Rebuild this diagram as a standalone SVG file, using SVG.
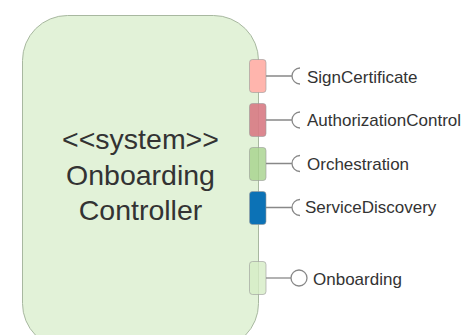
<svg xmlns="http://www.w3.org/2000/svg" width="466" height="335" viewBox="0 0 466 335">
<style>
.t{font-family:"Liberation Sans",Arial,sans-serif;fill:#333333}
.big{font-size:28.5px;text-anchor:middle}
.lbl{font-size:17px}
.ln{stroke:#888888;stroke-width:1.3;fill:none}
.port{stroke:#999999;stroke-width:1;stroke-opacity:0.6}
</style>
<rect width="466" height="335" fill="#ffffff"/>
<g id="system">
<rect x="22.5" y="15.5" width="236" height="333" rx="45" ry="45" fill="#e2f2d8" stroke="#a8b8a0" stroke-width="1"/>
<text class="t big" x="140.5" y="149">&lt;&lt;system&gt;&gt;</text>
<text class="t big" x="140.5" y="185">Onboarding</text>
<text class="t big" x="140.5" y="220">Controller</text>
</g>
<g id="port-sign"><rect class="port" x="249.5" y="59.5" width="16.5" height="33" rx="3" fill="#ffb5ad"/></g>
<g id="port-auth"><rect class="port" x="249.5" y="103.5" width="16.5" height="33" rx="3" fill="#d87a84" fill-opacity="0.9"/></g>
<g id="port-orch"><rect class="port" x="249.5" y="147.5" width="16.5" height="33" rx="3" fill="#a6d28c" fill-opacity="0.8"/></g>
<g id="port-sd"><rect class="port" x="249.5" y="191.5" width="16.5" height="33" rx="3" fill="#0c72b6"/></g>
<g id="port-onb"><rect class="port" x="249.5" y="261.5" width="16.5" height="33" rx="3" fill="#d6ecc6" fill-opacity="0.8"/></g>
<g id="connectors">
<path class="ln" d="M266 76 H292 M300 68 A8 8 0 0 0 300 84"/>
<path class="ln" d="M266 120 H292 M300 112 A8 8 0 0 0 300 128"/>
<path class="ln" d="M266 163.5 H292 M300 155.5 A8 8 0 0 0 300 171.5"/>
<path class="ln" d="M266 207.5 H292 M300 199.5 A8 8 0 0 0 300 215.5"/>
<path class="ln" d="M266 278 H291"/>
<circle class="ln" cx="299" cy="278" r="8" fill="#ffffff"/>
</g>
<g id="labels">
<text class="t lbl" x="307" y="83">SignCertificate</text>
<text class="t lbl" x="307" y="126">AuthorizationControl</text>
<text class="t lbl" x="307" y="170">Orchestration</text>
<text class="t lbl" x="305" y="213">ServiceDiscovery</text>
<text class="t lbl" x="313" y="285">Onboarding</text>
</g>
</svg>
